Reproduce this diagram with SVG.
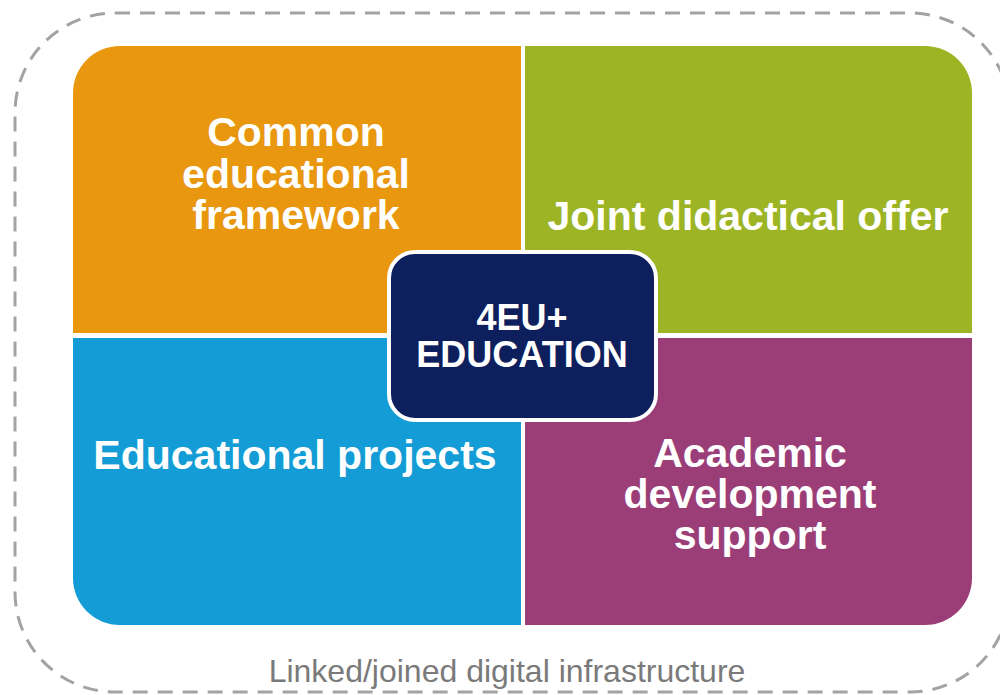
<svg xmlns="http://www.w3.org/2000/svg" width="1000" height="695" viewBox="0 0 1000 695">
<style>
.q{font-family:"Liberation Sans",Arial,sans-serif;font-weight:bold;font-size:41px;fill:#ffffff;text-anchor:middle}
.c{font-family:"Liberation Sans",Arial,sans-serif;font-weight:bold;font-size:36px;fill:#ffffff;text-anchor:middle}
.b{font-family:"Liberation Sans",Arial,sans-serif;font-size:32px;fill:#7a7a7a;text-anchor:middle}
</style>
<rect width="1000" height="695" fill="#ffffff"/>
<g id="frame">
<rect x="15" y="13" width="995" height="679" rx="100" ry="100" fill="none" stroke="#a3a3a3" stroke-width="3" stroke-dasharray="15 10"/>
<text class="b" x="507" y="682">Linked/joined digital infrastructure</text>
</g>
<g id="common">
<path d="M73,333 V93 A47,47 0 0 1 120,46 H521 V333 Z" fill="#E8970F"/>
<text class="q" x="296" y="146">Common<tspan x="296" dy="42">educational</tspan><tspan x="296" dy="41">framework</tspan></text>
</g>
<g id="joint">
<path d="M525,46 H925 A47,47 0 0 1 972,93 V333 H525 Z" fill="#9DB524"/>
<text class="q" x="748" y="230">Joint didactical offer</text>
</g>
<g id="projects">
<path d="M73,338 H521 V625 H120 A47,47 0 0 1 73,578 Z" fill="#139CD5"/>
<text class="q" x="295" y="469">Educational projects</text>
</g>
<g id="academic">
<path d="M525,338 H972 V578 A47,47 0 0 1 925,625 H525 Z" fill="#9B3E78"/>
<text class="q" x="750" y="467">Academic<tspan x="750" dy="41">development</tspan><tspan x="750" dy="41">support</tspan></text>
</g>
<g id="center">
<rect x="389" y="252" width="267" height="168" rx="26" ry="26" fill="#0D1F5C" stroke="#ffffff" stroke-width="4"/>
<text class="c" x="522" y="330">4EU+<tspan x="522" dy="37">EDUCATION</tspan></text>
</g>
<g id="connectors"/>
</svg>
